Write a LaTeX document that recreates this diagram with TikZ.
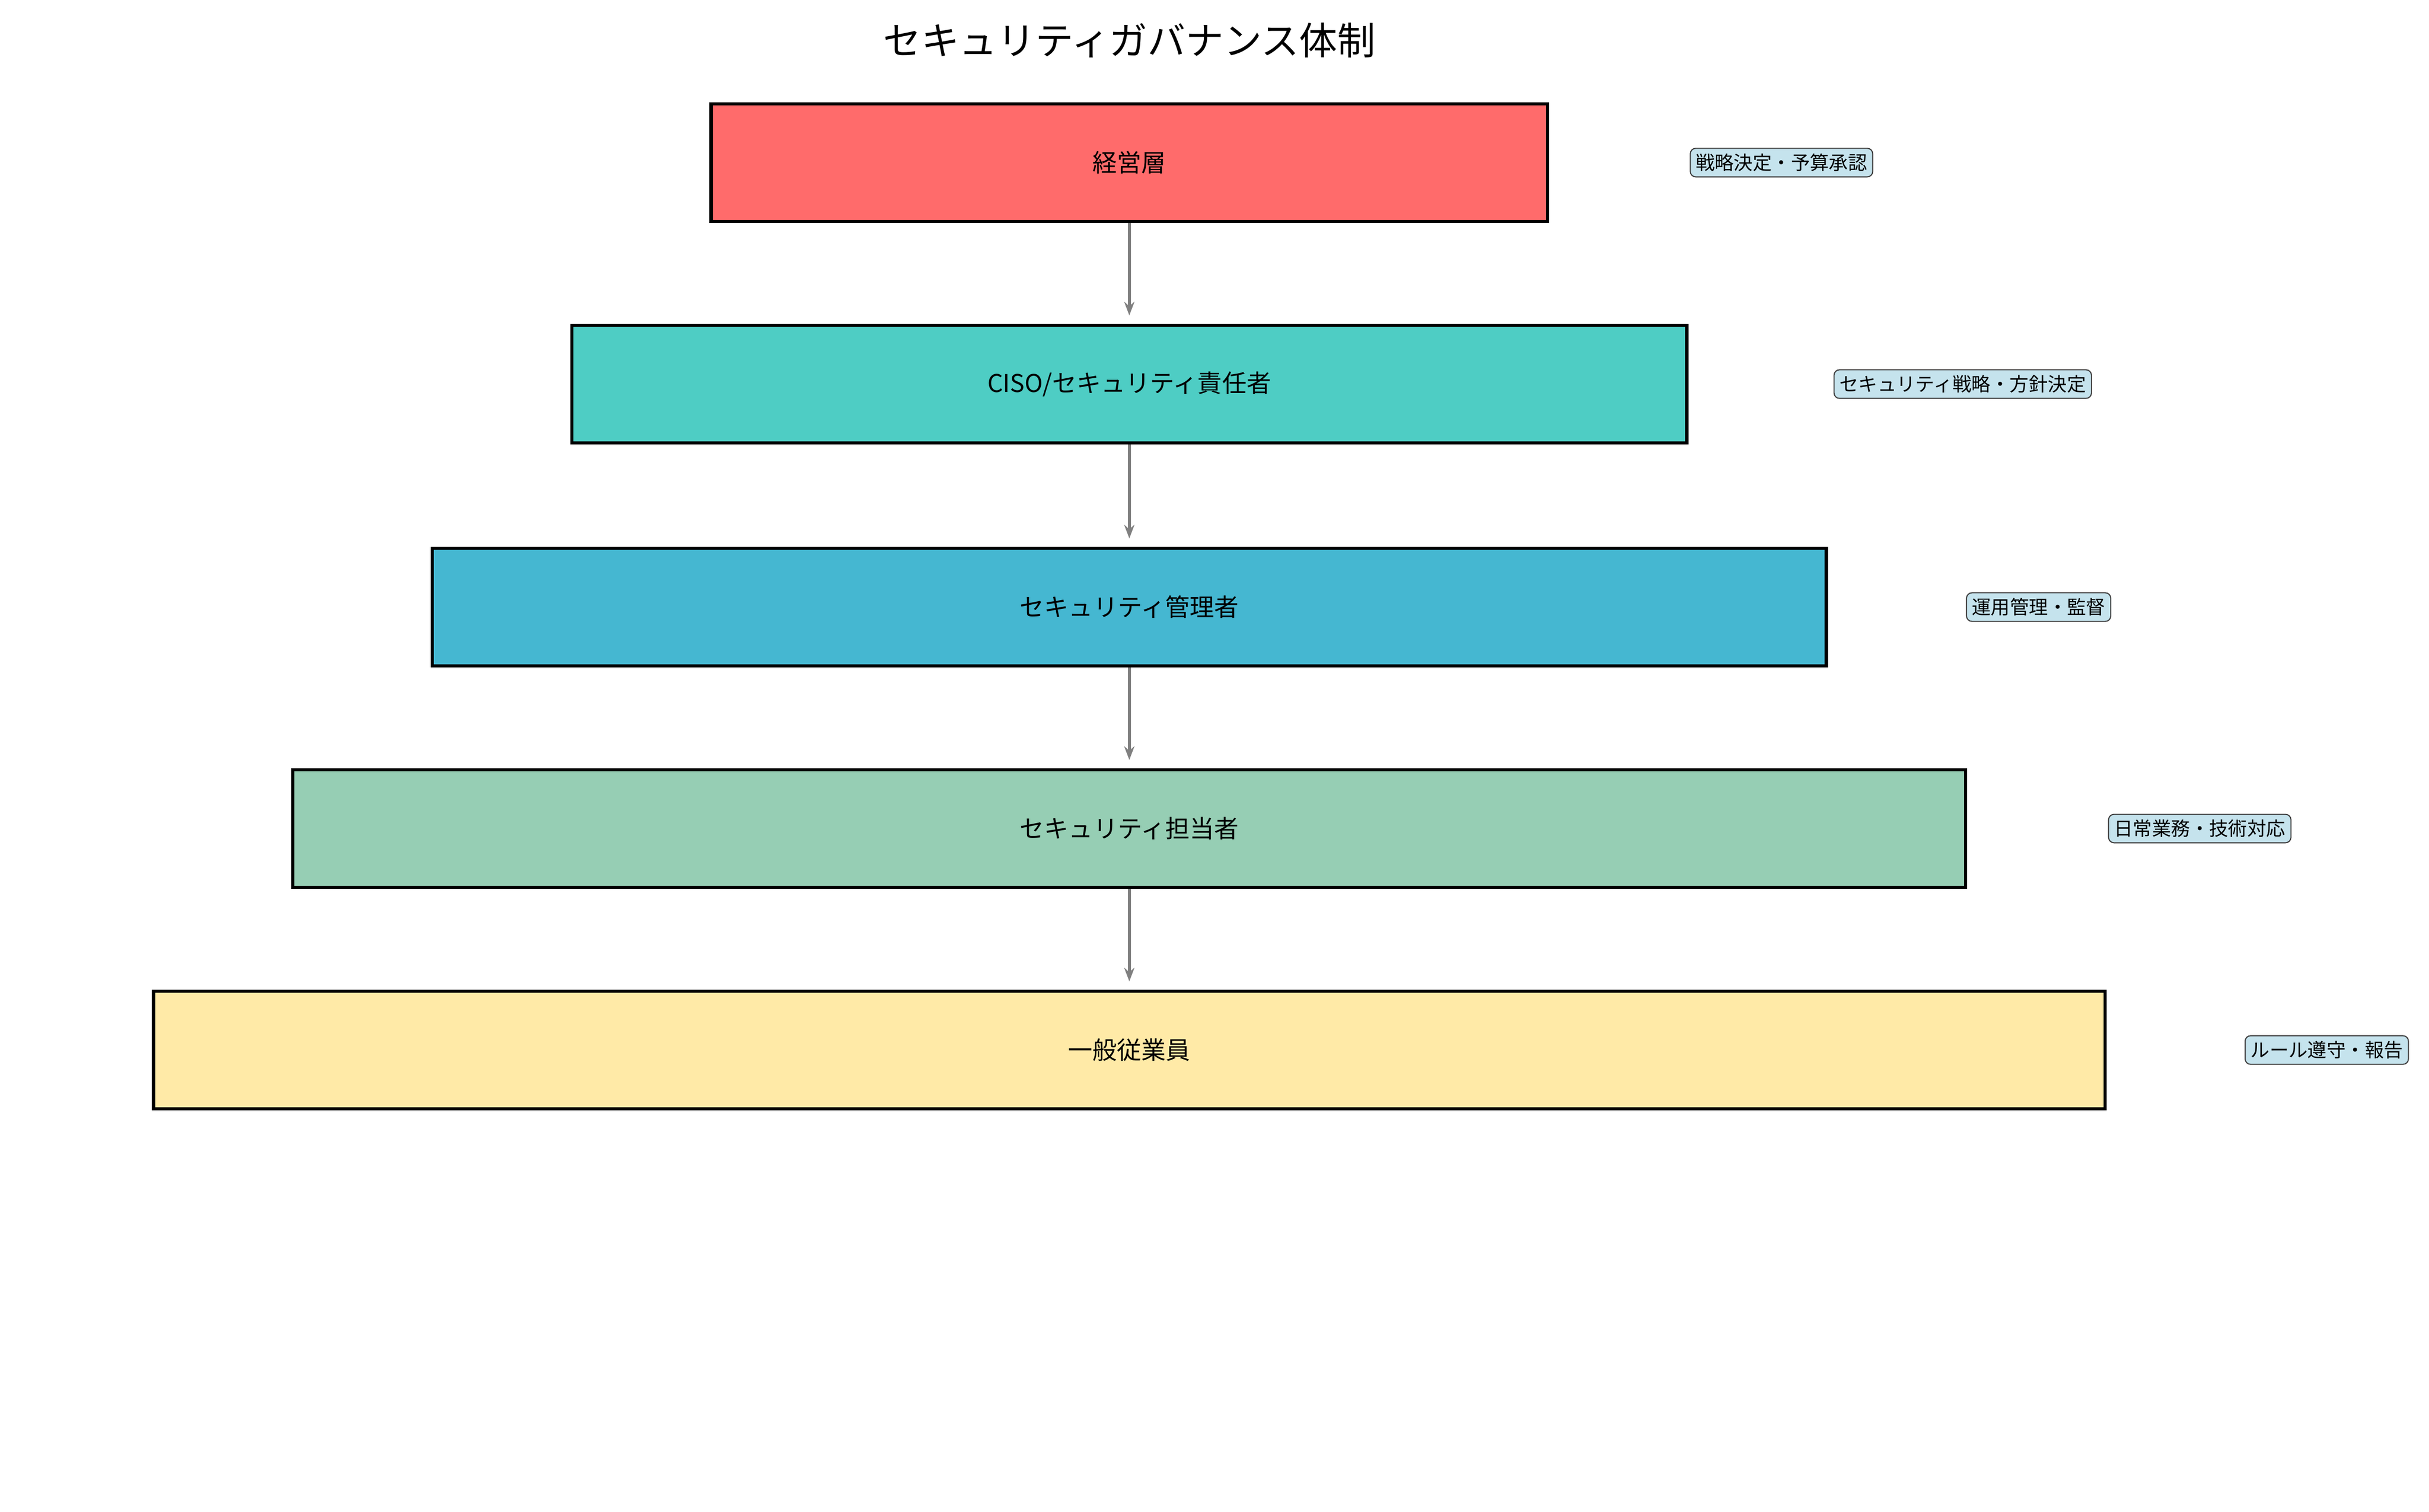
\documentclass[tikz,border=0pt]{standalone}
\usepackage{fontspec}
\setmainfont{Noto Sans CJK JP}
\usetikzlibrary{positioning, arrows.meta}

\definecolor{topred}{HTML}{FF6B6B}
\definecolor{cisoteal}{HTML}{4ECDC4}
\definecolor{mgrblue}{HTML}{45B7D1}
\definecolor{staffgreen}{HTML}{96CEB4}
\definecolor{empyellow}{HTML}{FFEAA7}
\definecolor{notebg}{HTML}{C5E3ED}

\tikzset{
  layer/.style={draw=black, line width=1.2pt, minimum height=1.52cm, font=\fontsize{9}{11}\selectfont, inner sep=0pt},
  role/.style={draw=black!75, fill=notebg, rounded corners=2pt, font=\fontsize{7}{8}\selectfont, inner sep=2pt},
  down/.style={-{Stealth[length=5pt]}, draw=gray, line width=1.2pt, shorten >=3pt}
}

\begin{document}
\begin{tikzpicture}[x=0.02cm, y=-0.02cm]
        \useasboundingbox (0,0) rectangle (1568,976);
        \node[font=\fontsize{14}{16}\selectfont] (title) at (729,26) {セキュリティガバナンス体制};

        \node[layer, fill=topred, minimum width=10.8cm] (l1) at (729,105) {経営層};
        \node[layer, fill=cisoteal, minimum width=14.4cm] (l2) at (729,248) {CISO/セキュリティ責任者};
        \node[layer, fill=mgrblue, minimum width=18cm] (l3) at (729,392) {セキュリティ管理者};
        \node[layer, fill=staffgreen, minimum width=21.6cm] (l4) at (729,535) {セキュリティ担当者};
        \node[layer, fill=empyellow, minimum width=25.2cm] (l5) at (729,678) {一般従業員};

        \node[role] (r1) at (1150,105) {戦略決定・予算承認};
        \node[role] (r2) at (1267,248) {セキュリティ戦略・方針決定};
        \node[role] (r3) at (1316,392) {運用管理・監督};
        \node[role] (r4) at (1420,535) {日常業務・技術対応};
        \node[role] (r5) at (1502,678) {ルール遵守・報告};

        \draw[down] (l1) -- (l2);
        \draw[down] (l2) -- (l3);
        \draw[down] (l3) -- (l4);
        \draw[down] (l4) -- (l5);
      \end{tikzpicture}
\end{document}
